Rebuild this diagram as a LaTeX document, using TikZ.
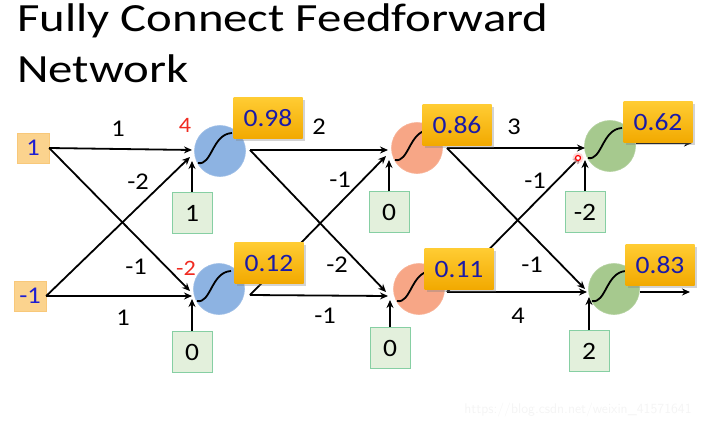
\documentclass[tikz,border=0pt]{standalone}
\usepackage{fontspec}
\setmainfont{Carlito}
\newfontfamily\ttlfont[FakeStretch=1.22]{Carlito}
\newfontfamily\labfont[FakeStretch=1.1]{Carlito}
\usetikzlibrary{arrows.meta,shadows,calc}
\definecolor{infill}{HTML}{FBD38E}
\definecolor{indraw}{HTML}{F8C87A}
\definecolor{intext}{HTML}{1E1ED2}
\definecolor{outtext}{HTML}{1A1AA8}
\definecolor{outtop}{HTML}{FFCC33}
\definecolor{outbot}{HTML}{F2A900}
\definecolor{biasfill}{HTML}{E3F0DC}
\definecolor{biasdraw}{HTML}{86CFA3}
\definecolor{bluen}{HTML}{8DB3E2}
\definecolor{orangen}{HTML}{F7A686}
\definecolor{greenn}{HTML}{A6C98E}
\definecolor{redlab}{HTML}{F02A20}
\begin{document}
\begin{tikzpicture}[x=1pt,y=-1pt,
  inbox/.style={rectangle,draw=indraw,fill=infill,text=intext,minimum width=32pt,minimum height=30pt,inner sep=0pt,font=\labfont\fontsize{24}{28}\selectfont},
  outbox/.style={rectangle,top color=outtop,bottom color=outbot,text=outtext,minimum width=69pt,minimum height=41pt,inner sep=0pt,font=\labfont\fontsize{25}{29}\selectfont,drop shadow={shadow xshift=2pt,shadow yshift=-2pt,opacity=0.35}},
  biasbox/.style={rectangle,draw=biasdraw,fill=biasfill,line width=1pt,minimum width=40pt,minimum height=41pt,inner sep=0pt,font=\labfont\fontsize{25}{29}\selectfont},
  neuron/.style={circle,minimum size=51pt,inner sep=0pt,draw=#1!85!white,line width=0.6pt,fill=#1},
  wlab/.style={font=\labfont\fontsize{24}{28}\selectfont},
  rlab/.style={font=\labfont\fontsize{22}{26}\selectfont,text=redlab},
  conn/.style={line width=1.8pt,-{Stealth[length=8pt,width=7pt]}},
  sig/.style={line width=1.8pt}
]
\useasboundingbox (0,0) rectangle (720,429);

% title
\node[anchor=base west,font=\ttlfont\fontsize{40}{48}\selectfont,inner sep=0pt] (t1) at (17,31) {Fully Connect Feedforward};
\node[anchor=base west,font=\ttlfont\fontsize{40}{48}\selectfont,inner sep=0pt] (t2) at (17,82) {Network};

% inputs
\node[inbox] (in1) at (33,148) {1};
\node[inbox] (in2) at (30,296) {-1};

% neurons
\node[neuron=bluen] (h11) at (220,151) {};
\node[neuron=bluen] (h12) at (219,289) {};
\node[neuron=orangen] (h21) at (417,148) {};
\node[neuron=orangen] (h22) at (419,289) {};
\node[neuron=greenn] (o1) at (610,146) {};
\node[neuron=greenn] (o2) at (614,289) {};

% biases
\node[biasbox] (b11) at (192,213) {1};
\node[biasbox] (b12) at (192,352) {0};
\node[biasbox] (b21) at (389,212) {0};
\node[biasbox] (b22) at (390,348) {0};
\node[biasbox] (b31) at (585,212) {-2};
\node[biasbox] (b32) at (589,351) {2};

% connection points
\coordinate (h11o) at (250,150);
\coordinate (h12o) at (250,295);
\coordinate (h21o) at (447,148);
\coordinate (h22o) at (447,292);
\coordinate (h11a) at (192,150);
\coordinate (h11b) at (190,157);
\coordinate (h11c) at (192,161);
\coordinate (h12a) at (192,296);
\coordinate (h12b) at (190,291);
\coordinate (h12c) at (192,299);
\coordinate (h21a) at (388,150);
\coordinate (h21b) at (386,156);
\coordinate (h21c) at (389,160);
\coordinate (h22a) at (388,296);
\coordinate (h22b) at (386,292);
\coordinate (h22c) at (390,300);
\coordinate (o1a) at (585,148);
\coordinate (o1b) at (581,156);
\coordinate (o1c) at (585,160);
\coordinate (o2a) at (587,292);
\coordinate (o2b) at (585,289);
\coordinate (o2c) at (589,297);
\coordinate (o1s) at (636,143);
\coordinate (o1e) at (692,143);
\coordinate (o2s) at (640,292);
\coordinate (o2e) at (690,292);

% layer 1
\draw[conn] (in1.east) -- (h11a);
\draw[conn] (in2.east) -- (h11b);
\draw[conn] (in1.east) -- (h12b);
\draw[conn] (in2.east) -- (h12a);
\draw[conn] (b11.north) -- (h11c);
\draw[conn] (b12.north) -- (h12c);
% layer 2
\draw[conn] (h11o) -- (h21a);
\draw[conn] (h12o) -- (h21b);
\draw[conn] (h11o) -- (h22b);
\draw[conn] (h12o) -- (h22a);
\draw[conn] (b21.north) -- (h21c);
\draw[conn] (b22.north) -- (h22c);
% layer 3
\draw[conn] (h21o) -- (o1a);
\draw[conn] (h22o) -- (o1b);
\draw[conn] (h21o) -- (o2b);
\draw[conn] (h22o) -- (o2a);
\draw[conn] (b31.north) -- (o1c);
\draw[conn] (b32.north) -- (o2c);
% outputs
\draw[conn] (o1s) -- (o1e);
\draw[conn] (o2s) -- (o2e);

% sigmoid curves
\foreach \n in {h11,h12,h21,h22,o1,o2}{
  \draw[sig] ($(\n)+(-22,12)$) .. controls ($(\n)+(-8,15)$) and ($(\n)+(-8,-17)$) .. ($(\n)+(12,-18)$);
}

% output value boxes
\node[outbox] (v11) at (268,118) {0.98};
\node[outbox] (v12) at (269,263) {0.12};
\node[outbox] (v21) at (457,125) {0.86};
\node[outbox] (v22) at (459,269) {0.11};
\node[outbox] (v31) at (658,122) {0.62};
\node[outbox] (v32) at (660,265) {0.83};

% weight labels
\node[wlab] (w1) at (118,129) {1};
\node[rlab] (z1) at (185,125) {4};
\node[wlab] (w2) at (138,182) {-2};
\node[wlab] (w3) at (136,267) {-1};
\node[rlab] (z2) at (186,268) {-2};
\node[wlab] (w4) at (123,318) {1};
\node[wlab] (w5) at (319,127) {2};
\node[wlab] (w6) at (340,180) {-1};
\node[wlab] (w7) at (337,265) {-2};
\node[wlab] (w8) at (325,316) {-1};
\node[wlab] (w9) at (514,127) {3};
\node[wlab] (w10) at (535,181) {-1};
\node[wlab] (w11) at (532,265) {-1};
\node[wlab] (w12) at (518,316) {4};

% cursor marker
\node[circle,fill=red!25,opacity=0.6,minimum size=11pt,inner sep=0pt] (glow) at (578,158) {};
\node[circle,draw=red,line width=1.2pt,fill=white,minimum size=5pt,inner sep=0pt] (cur) at (578,158) {};

% watermark
\node[font=\sffamily\fontsize{14}{16}\selectfont,text=gray!9] (wm) at (578,410) {https://blog.csdn.net/weixin\_41571641};
\end{tikzpicture}
\end{document}
